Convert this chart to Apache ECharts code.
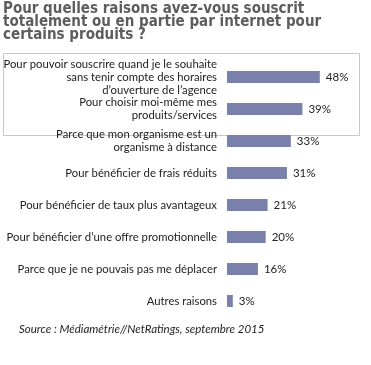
<!DOCTYPE html>
<html><head><meta charset="utf-8">
<script src="https://cdn.jsdelivr.net/npm/echarts@6/dist/echarts.min.js"></script>
<style>html,body{margin:0;padding:0;background:#fff}#c{width:371px;height:365px}</style>
</head><body><div id="c"></div>
<script>
var categories = [
  "Pour pouvoir souscrire quand je le souhaite\nsans tenir compte des horaires\nd\u2019ouverture de l\u2019agence",
  "Pour choisir moi-m\u00eame mes\nproduits/services",
  "Parce que mon organisme est un\norganisme \u00e0 distance",
  "Pour b\u00e9n\u00e9ficier de frais r\u00e9duits",
  "Pour b\u00e9n\u00e9ficier de taux plus avantageux",
  "Pour b\u00e9n\u00e9ficier d\u2019une offre promotionnelle",
  "Parce que je ne pouvais pas me d\u00e9placer",
  "Autres raisons"
];
var values = [48, 39, 33, 31, 21, 20, 16, 3];
var titleText = "Pour quelles raisons avez-vous souscrit\ntotalement ou en partie par internet pour\ncertains produits ?";
var sourceText = "Source : M\u00e9diam\u00e9trie//NetRatings, septembre 2015";

var chart = echarts.init(document.getElementById('c'), null, {renderer: 'canvas'});
var labelFont = 'Lato, "Open Sans", sans-serif';
chart.setOption({
  animation: false,
  backgroundColor: '#fff',
  title: {
    text: titleText, left: 3, top: 3, padding: 0,
    textStyle: {fontFamily: '"Liberation Sans Narrow", "DejaVu Sans Condensed", sans-serif', fontWeight: 'bold', fontSize: 15, lineHeight: 13, color: '#5d5d5d'}
  },
  graphic: [
    {type: 'rect', shape: {x: 3.5, y: 53.5, width: 356, height: 82}, style: {fill: 'none', stroke: '#c8c8c8', lineWidth: 1}, z: 0},
    {type: 'text', left: 19, top: 323, style: {text: sourceText, font: 'italic 11.5px ' + labelFont, fill: '#222'}}
  ],
  grid: {left: 227, right: 28, top: 61, bottom: 48, containLabel: false, outerBoundsMode: 'none'},
  xAxis: {type: 'value', min: 0, max: 60, show: false},
  yAxis: {
    type: 'category', data: categories, inverse: true,
    axisLine: {show: false}, axisTick: {show: false}, splitLine: {show: false},
    axisLabel: {interval: 0, margin: 10, fontSize: 11.3, lineHeight: 13, color: '#222', fontFamily: labelFont, align: 'right', hideOverlap: false}
  },
  series: [{
    type: 'bar', data: values, barWidth: 12,
    itemStyle: {color: '#7880ab'},
    label: {show: true, position: 'right', distance: 6, formatter: '{c}%', fontSize: 11.5, color: '#222', fontFamily: labelFont}
  }]
});
</script></body></html>
